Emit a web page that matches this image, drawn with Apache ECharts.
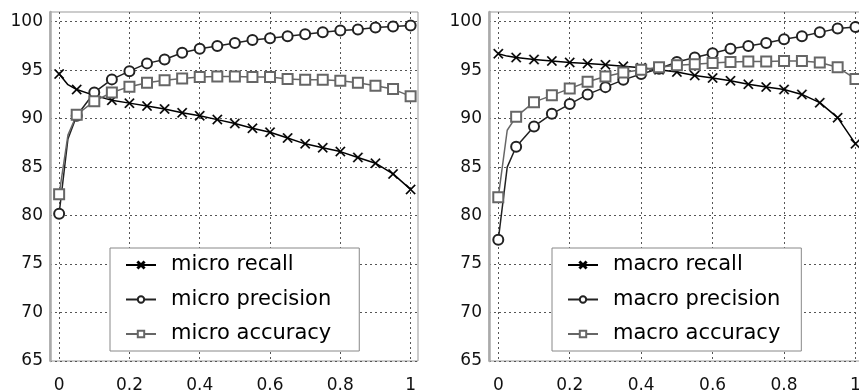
<!DOCTYPE html>
<html>
<head>
<meta charset="utf-8">
<script src="https://cdn.jsdelivr.net/npm/echarts@6/dist/echarts.min.js"></script>
<style>
  html, body { margin: 0; padding: 0; background: #fff; }
  #chart { width: 859px; height: 390px; }
</style>
</head>
<body>
<div id="chart"></div>
<script>
// x positions of the curve points (0.025 is an unmarked bend point)
const xValues = [0, 0.025, 0.05, 0.1, 0.15, 0.2, 0.25, 0.3, 0.35, 0.4, 0.45,
  0.5, 0.55, 0.6, 0.65, 0.7, 0.75, 0.8, 0.85, 0.9, 0.95, 1];
const unmarkedX = 0.025;
const xTicks = [0, 0.2, 0.4, 0.6, 0.8, 1];
const yTicks = [65, 70, 75, 80, 85, 90, 95, 100];

// left panel
const microRecall = [94.6, 93.5, 93.0, 92.4, 91.9, 91.6, 91.3, 91.0, 90.6, 90.3, 89.9,
  89.5, 89.0, 88.6, 88.0, 87.4, 87.0, 86.6, 86.0, 85.4, 84.3, 82.7];
const microPrecision = [80.2, 87.9, 90.3, 92.7, 94.05, 94.9, 95.7, 96.1, 96.8, 97.2, 97.5,
  97.8, 98.1, 98.3, 98.5, 98.7, 98.9, 99.1, 99.2, 99.4, 99.5, 99.6];
const microAccuracy = [82.2, 88.3, 90.4, 91.8, 92.7, 93.3, 93.7, 93.95, 94.15, 94.3, 94.35,
  94.35, 94.3, 94.3, 94.1, 94.0, 94.0, 93.9, 93.7, 93.4, 93.05, 92.3];

// right panel
const macroRecall = [96.7, 96.45, 96.3, 96.1, 95.95, 95.8, 95.7, 95.55, 95.4, 95.25, 95.05,
  94.8, 94.46, 94.2, 93.9, 93.55, 93.26, 93.0, 92.5, 91.65, 90.1, 87.4];
const macroPrecision = [77.5, 85.0, 87.1, 89.2, 90.5, 91.5, 92.5, 93.25, 94.0, 94.6, 95.15,
  95.85, 96.3, 96.75, 97.2, 97.5, 97.8, 98.2, 98.5, 98.9, 99.3, 99.45];
const macroAccuracy = [81.9, 88.8, 90.2, 91.7, 92.4, 93.1, 93.8, 94.35, 94.75, 95.05, 95.3,
  95.5, 95.6, 95.75, 95.85, 95.9, 95.9, 95.95, 95.95, 95.8, 95.3, 94.1];

const crossSymbol = 'path://M0,1L1,0L5,4L9,0L10,1L6,5L10,9L9,10L5,6L1,10L0,9L4,5Z';
const font = 'DejaVu Sans';

function points(vals) {
  return xValues.map((x, i) => x === unmarkedX
    ? { value: [x, vals[i]], symbolSize: 0 }
    : [x, vals[i]]);
}

function makeSeries(name, vals, idx, symbol, color) {
  return {
    name: name,
    type: 'line',
    xAxisIndex: idx,
    yAxisIndex: idx,
    data: points(vals),
    symbol: symbol,
    symbolSize: 10,
    lineStyle: { color: color, width: 1.5 },
    itemStyle: { color: color, borderColor: color, borderWidth: symbol === crossSymbol ? 0.3 : 1.5 },
    emphasis: { disabled: true }
  };
}

function makeX(idx) {
  return {
    type: 'value', gridIndex: idx, min: -0.026, max: 1.021,
    axisLine: { show: false },
    axisTick: { show: false, customValues: xTicks },
    axisLabel: {
      customValues: xTicks, margin: 16, fontFamily: font, fontSize: 17, color: '#111',
      showMaxLabel: true, showMinLabel: true, hideOverlap: false
    },
    splitLine: { show: true, lineStyle: { color: '#555', width: 1, type: [2, 3] } }
  };
}

function makeY(idx) {
  return {
    type: 'value', gridIndex: idx, min: 65, max: 101,
    axisLine: { show: true, onZero: false, lineStyle: { color: '#aaa', width: 2.5 } },
    axisTick: { show: false, customValues: yTicks },
    axisLabel: {
      customValues: yTicks, margin: 7, fontFamily: font, fontSize: 17, color: '#111',
      verticalAlignMinLabel: 'middle', verticalAlignMaxLabel: 'middle'
    },
    splitLine: { show: true, lineStyle: { color: '#555', width: 1, type: [2, 3] } }
  };
}

function makeLegend(names, left, rightPad) {
  return {
    data: names,
    orient: 'vertical',
    left: left,
    top: 248,
    padding: [5, rightPad, 5, 15],
    itemGap: 10.5,
    itemWidth: 30,
    itemHeight: 8,
    backgroundColor: '#fff',
    borderColor: '#888',
    borderWidth: 1,
    selectedMode: false,
    textStyle: { fontFamily: font, fontSize: 21, color: '#000', lineHeight: 24, padding: [0, 0, 0, 10] }
  };
}

const chart = echarts.init(document.getElementById('chart'));
chart.setOption({
  animation: false,
  backgroundColor: '#fff',
  grid: [
    { left: 50, top: 12, width: 368, height: 349, show: true, borderColor: '#999', borderWidth: 1,
      outerBoundsMode: 'none', containLabel: false },
    { left: 489, top: 12, width: 374, height: 349, show: true, borderColor: '#999', borderWidth: 1,
      outerBoundsMode: 'none', containLabel: false }
  ],
  xAxis: [makeX(0), makeX(1)],
  yAxis: [makeY(0), makeY(1)],
  legend: [
    makeLegend(['micro recall', 'micro precision', 'micro accuracy'], 110, 28),
    makeLegend(['macro recall', 'macro precision', 'macro accuracy'], 552, 21)
  ],
  series: [
    makeSeries('micro recall', microRecall, 0, crossSymbol, '#000'),
    makeSeries('micro precision', microPrecision, 0, 'emptyCircle', '#222'),
    makeSeries('micro accuracy', microAccuracy, 0, 'emptyRect', '#666'),
    makeSeries('macro recall', macroRecall, 1, crossSymbol, '#000'),
    makeSeries('macro precision', macroPrecision, 1, 'emptyCircle', '#222'),
    makeSeries('macro accuracy', macroAccuracy, 1, 'emptyRect', '#666')
  ]
});
</script>
</body>
</html>
